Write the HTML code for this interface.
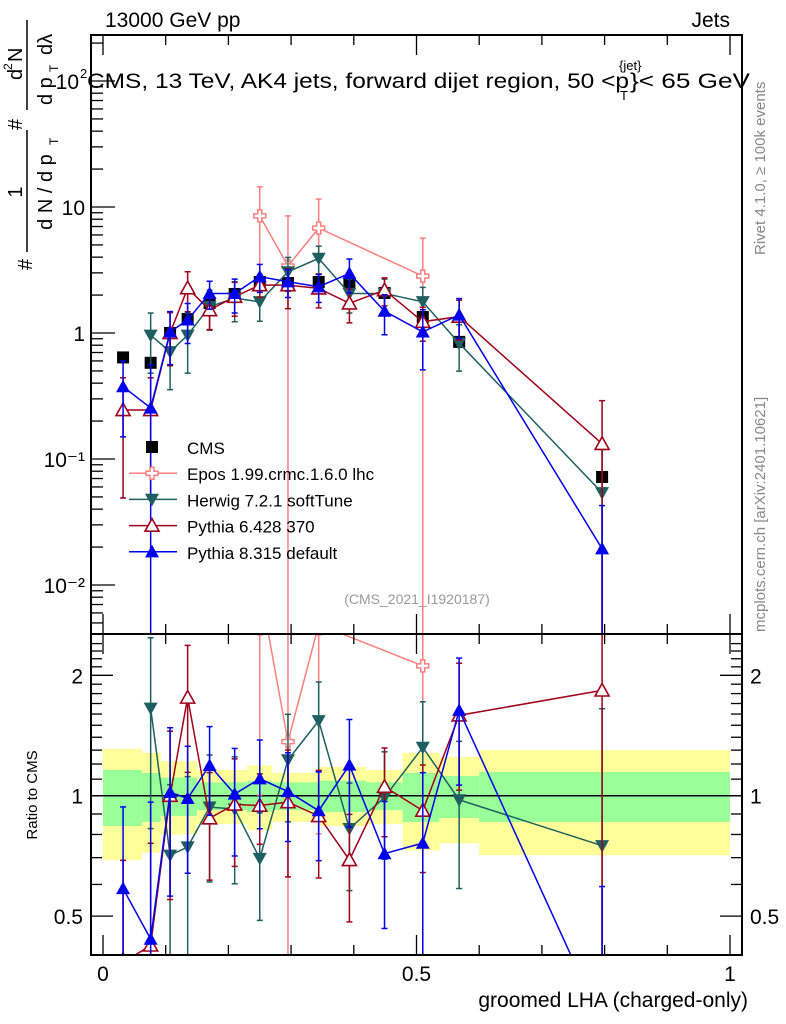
<!DOCTYPE html>
<html><head><meta charset="utf-8"><style>
html,body{margin:0;padding:0;background:#fff;overflow:hidden;width:786px;height:1024px}
svg{display:block}
svg text{font-family:"Liberation Sans",sans-serif}
</style></head><body>
<svg id="chart" width="786" height="1024" xmlns="http://www.w3.org/2000/svg"></svg>
<script>
// ---- data ----
const xVals = [0.032,0.076,0.107,0.135,0.170,0.210,0.250,0.295,0.344,0.393,0.449,0.510,0.568,0.796];
const cmsVals = [0.64,0.58,1.0,1.29,1.73,2.04,2.54,2.49,2.54,2.49,2.08,1.34,0.85,0.072];
const cmsErr = [0.05,0.05,0.05,0.05,0.05,0.05,0.05,0.05,0.05,0.05,0.05,0.05,0.05,0.08];
const eposX = [0.250,0.295,0.344,0.510];
const eposVals = [8.5,3.4,6.8,2.83];
const eposErr = [0.7,1.5,0.7,1.0];
const herwigVals = [null,0.96,0.71,0.96,1.62,1.89,1.77,3.06,3.91,2.06,2.06,1.77,0.83,0.054];
const herwigErr = [0,0.5,0.5,0.5,0.35,0.35,0.3,0.3,0.25,0.3,0.3,0.3,0.4,1.2];
const py6Vals = [0.245,0.245,1.0,2.27,1.52,1.94,2.4,2.4,2.26,1.72,2.19,1.23,1.35,0.132];
const py6Err = [0.8,0.8,0.45,0.35,0.3,0.3,0.2,0.35,0.3,0.3,0.25,0.3,0.35,1.2];
const py8Vals = [0.375,0.254,1.02,1.27,2.06,2.06,2.8,2.55,2.33,2.97,1.49,1.02,1.39,0.0194];
const py8Err = [0.6,1.2,0.45,0.35,0.25,0.3,0.25,0.25,0.25,0.3,0.35,0.5,0.35,1.2];
const bandEdges = [0,0.062,0.092,0.15,0.23,0.27,0.345,0.42,0.478,0.537,0.6,1.0];
const yelUp = [1.31,1.28,1.22,1.16,1.19,1.14,1.18,1.16,1.28,1.25,1.30];
const yelLo = [0.69,0.72,0.80,0.85,0.82,0.86,0.84,0.85,0.73,0.76,0.71];
const grnUp = [1.16,1.14,1.11,1.08,1.09,1.08,1.09,1.08,1.14,1.12,1.146];
const grnLo = [0.84,0.86,0.89,0.92,0.91,0.92,0.91,0.92,0.86,0.88,0.86];
const mainTicks = [0.01,0.1,1,10,100];
const ratioTicks = [0.5,1,2];

// ---- axes ----
const L=91,R=742,T=35,MB=634,RB=955;
const X=v=>103+v*627;
const Y=v=>333-Math.log10(v)*126;
const YR=v=>795.7-Math.log10(v)*400;
const svg=document.getElementById('chart');
const NS='http://www.w3.org/2000/svg';
function mk(tag,attrs,parent){const e=document.createElementNS(NS,tag);for(const k in attrs)e.setAttribute(k,attrs[k]);(parent||svg).appendChild(e);return e;}
function txt(s,x,y,attrs,parent){const e=mk('text',Object.assign({x:x,y:y},attrs),parent);e.textContent=s;return e;}

const defs=mk('defs',{});
const c1=mk('clipPath',{id:'cm'},defs);mk('rect',{x:L,y:T,width:R-L,height:MB-T},c1);
const c2=mk('clipPath',{id:'cr'},defs);mk('rect',{x:L,y:MB,width:R-L,height:RB-MB},c2);
const gMain=mk('g',{'clip-path':'url(#cm)'});


const gRat=mk('g',{'clip-path':'url(#cr)'});



for(let i=0;i<yelUp.length;i++){
  const x0=X(bandEdges[i]),x1=X(bandEdges[i+1]);
  const y=mk('rect',{x:x0,y:YR(yelUp[i]),width:x1-x0,height:YR(yelLo[i])-YR(yelUp[i]),fill:'#ffff99'},gRat);
  
  
  const g=mk('rect',{x:x0,y:YR(grnUp[i]),width:x1-x0,height:YR(grnLo[i])-YR(grnUp[i]),fill:'#99ff99'},gRat);
  
  
}
mk('line',{x1:L,x2:R,y1:YR(1),y2:YR(1),stroke:'#000','stroke-width':1.5},gRat);

function marker(type,x,y,col,parent){
  const s=7;
  if(type==='sq')return mk('rect',{x:x-6,y:y-6,width:12,height:12,fill:'#000'},parent);
  if(type==='up')return mk('polygon',{points:`${x},${y-s} ${x-s},${y+s*0.8} ${x+s},${y+s*0.8}`,fill:col},parent);
  if(type==='upo')return mk('polygon',{points:`${x},${y-s} ${x-s},${y+s*0.8} ${x+s},${y+s*0.8}`,fill:'#fff',stroke:col,'stroke-width':1.6},parent);
  if(type==='dn')return mk('polygon',{points:`${x},${y+s} ${x-s},${y-s*0.8} ${x+s},${y-s*0.8}`,fill:col},parent);
  if(type==='cross'){const a=2,b=6;return mk('polygon',{points:`${x-a},${y-b} ${x+a},${y-b} ${x+a},${y-a} ${x+b},${y-a} ${x+b},${y+a} ${x+a},${y+a} ${x+a},${y+b} ${x-a},${y+b} ${x-a},${y+a} ${x-b},${y+a} ${x-b},${y-a} ${x-a},${y-a}`,fill:'#fff',stroke:col,'stroke-width':1.5},parent);}
}

const clampY=(y,ratio)=>Math.max(ratio?MB-5:T-5,Math.min(ratio?RB+5:MB+5,y));
function series(name,xs,vals,errs,col,type,ratio){
  const g=mk('g',{},ratio?gRat:gMain);
  
  
  const fy=ratio?YR:Y;
  const pts=[];
  for(let i=0;i<xs.length;i++){
    const v=vals[i]; if(v==null)continue;
    let r=v;
    if(ratio){const ci=xVals.indexOf(xs[i]);r=v/cmsVals[ci];}
    pts.push([X(xs[i]),fy(r)]);
  }
  if(type!=='sq')mk('polyline',{points:pts.map(p=>p.join(',')).join(' '),fill:'none',stroke:col,'stroke-width':1.5},g);
  for(let i=0;i<xs.length;i++){
    const v=vals[i]; if(v==null)continue;
    let r=v; if(ratio){const ci=xVals.indexOf(xs[i]);r=v/cmsVals[ci];}
    const e=errs[i];
    const x=X(xs[i]);
    const yt=clampY(fy(r*(1+e)),ratio), yb=e>=1?(ratio?RB+5:MB+5):clampY(fy(r*(1-e)),ratio);
    if(type!=='sq'){
      mk('line',{x1:x,x2:x,y1:yt,y2:yb,stroke:col,'stroke-width':1.5},g);
      mk('line',{x1:x-3,x2:x+3,y1:yt,y2:yt,stroke:col,'stroke-width':1.5},g);
      if(e<1)mk('line',{x1:x-3,x2:x+3,y1:yb,y2:yb,stroke:col,'stroke-width':1.5},g);
    }
    const m=marker(type,x,clampY(fy(r),ratio),col,g);
    
    
  }
}
series('cms',xVals,cmsVals,cmsErr,'#000','sq',false);
series('epos',eposX,eposVals,eposErr,'#ff7f7f','cross',false);
series('herwig',xVals,herwigVals,herwigErr,'#1f5f60','dn',false);
series('pythia6',xVals,py6Vals,py6Err,'#a0001a','upo',false);
series('pythia8',xVals,py8Vals,py8Err,'#0000ee','up',false);
series('epos',eposX,eposVals,eposErr,'#ff7f7f','cross',true);
series('herwig',xVals,herwigVals,herwigErr,'#1f5f60','dn',true);
series('pythia6',xVals,py6Vals,py6Err,'#a0001a','upo',true);
series('pythia8',xVals,py8Vals,py8Err,'#0000ee','up',true);

mk('rect',{x:L,y:T,width:R-L,height:MB-T,fill:'none',stroke:'#000','stroke-width':2});
mk('rect',{x:L,y:MB,width:R-L,height:RB-MB,fill:'none',stroke:'#000','stroke-width':2});

for(let d=-3;d<=2;d++){
  for(let m=1;m<=9;m++){
    const v=m*Math.pow(10,d);const y=Y(v);
    if(y<T||y>MB)continue;
    mk('line',{x1:L,x2:L+(m===1?24:12),y1:y,y2:y,stroke:'#000','stroke-width':1.3});
  }
}
const mtl=['10\u207B\u00B2','10\u207B\u00B9','1','10',''];
mainTicks.forEach((v,i)=>{ if(!mtl[i])return; const t=txt(mtl[i],L-6,Y(v)+8,{'font-size':21,'text-anchor':'end'});
  
  });
txt('10',L-12,Y(100)+8,{'font-size':21,'text-anchor':'end'});
txt('2',L-11,Y(100)-3,{'font-size':13,'text-anchor':'start'});

for(let i=0;i<=10;i++){
  const x=X(i/10);const big=i%5===0;
  mk('line',{x1:x,x2:x,y1:T,y2:T+(big?20:10),stroke:'#000','stroke-width':1.3});
  mk('line',{x1:x,x2:x,y1:MB,y2:MB-(big?20:10),stroke:'#000','stroke-width':1.3});
  mk('line',{x1:x,x2:x,y1:MB,y2:MB+(big?20:10),stroke:'#000','stroke-width':1.3});
  mk('line',{x1:x,x2:x,y1:RB,y2:RB-(big?20:10),stroke:'#000','stroke-width':1.3});
}
[['0',0],['0.5',0.5],['1',1]].forEach(a=>{const t=txt(a[0],X(a[1]),981,{'font-size':21,'text-anchor':'middle'});
  
  });

[0.4,0.5,0.6,0.7,0.8,0.9,1,1.1,1.2,1.3,1.4,1.5,1.6,1.7,1.8,1.9,2,2.1,2.2,2.3,2.4].forEach(v=>{
  const y=YR(v);if(y<MB||y>RB)return;const big=(v===0.5||v===1||v===2);
  mk('line',{x1:L,x2:L+(big?22:11),y1:y,y2:y,stroke:'#000','stroke-width':1.3});
  mk('line',{x1:R,x2:R-(big?22:11),y1:y,y2:y,stroke:'#000','stroke-width':1.3});
});
ratioTicks.forEach(v=>{
  const a=txt(String(v),L-8,YR(v)+8,{'font-size':21,'text-anchor':'end'});
  
  
  const b=txt(String(v),R+8,YR(v)+8,{'font-size':21,'text-anchor':'start'});
  
  
});

let t;
t=txt('13000 GeV pp',105,27,{'font-size':21});
t=txt('Jets',730,27,{'font-size':21,'text-anchor':'end'});
t=txt('CMS, 13 TeV, AK4 jets, forward dijet region, 50 <p',87,88,{'font-size':21,textLength:542,lengthAdjust:'spacingAndGlyphs'});
txt('{jet}',619,70,{'font-size':13});
txt('T',620,100,{'font-size':13});
txt('}< 65 GeV',630,88,{'font-size':21,textLength:120,lengthAdjust:'spacingAndGlyphs'});
t=txt('groomed LHA (charged-only)',748,1007,{'font-size':21,'text-anchor':'end'});
t=txt('Ratio to CMS',0,0,{'font-size':15,'text-anchor':'middle',transform:'translate(37,795) rotate(-90)'});
const yl=mk('g',{transform:'translate(32,270) rotate(-90)'});


txt('#',0,0,{'font-size':20},yl);
txt('1',78,-10,{'font-size':20,'text-anchor':'middle'},yl);
mk('line',{x1:18,x2:140,y1:-5,y2:-5,stroke:'#000','stroke-width':1.5},yl);
txt('d N / d p',78,20,{'font-size':20,'text-anchor':'middle'},yl);
txt('T',125,26,{'font-size':12},yl);
txt('#',140,-10,{'font-size':20},yl);
txt('d',190,-10,{'font-size':20},yl);
txt('2',200,-20,{'font-size':12},yl);
txt('N',208,-10,{'font-size':20},yl);
mk('line',{x1:160,x2:250,y1:-5,y2:-5,stroke:'#000','stroke-width':1.5},yl);
txt('d p',165,20,{'font-size':20},yl);
txt('T',198,26,{'font-size':12},yl);
txt('d\u03BB',215,20,{'font-size':20},yl);
t=txt('Rivet 4.1.0, \u2265 100k events',0,0,{'font-size':15,fill:'#888',transform:'translate(765,255) rotate(-90)'});
t=txt('mcplots.cern.ch [arXiv:2401.10621]',0,0,{'font-size':15,fill:'#888',transform:'translate(765,632) rotate(-90)'});
t=txt('(CMS_2021_I1920187)',417,604,{'font-size':14,fill:'#999','text-anchor':'middle'});

const leg=[['CMS','#000','sq'],['Epos 1.99.crmc.1.6.0 lhc','#ff7f7f','cross'],['Herwig 7.2.1 softTune','#1f5f60','dn'],['Pythia 6.428 370','#a0001a','upo'],['Pythia 8.315 default','#0000ee','up']];
const lg=mk('g',{});


leg.forEach((l,i)=>{
  const y=447+i*26.2;
  const e=mk('g',{},lg);
  
  
  if(l[2]!=='sq')mk('line',{x1:129,x2:177,y1:y,y2:y,stroke:l[1],'stroke-width':1.5},e);
  marker(l[2],152,y,l[1],e);
  txt(l[0],187,y+7,{'font-size':17},e);
});
</script>
</body></html>
